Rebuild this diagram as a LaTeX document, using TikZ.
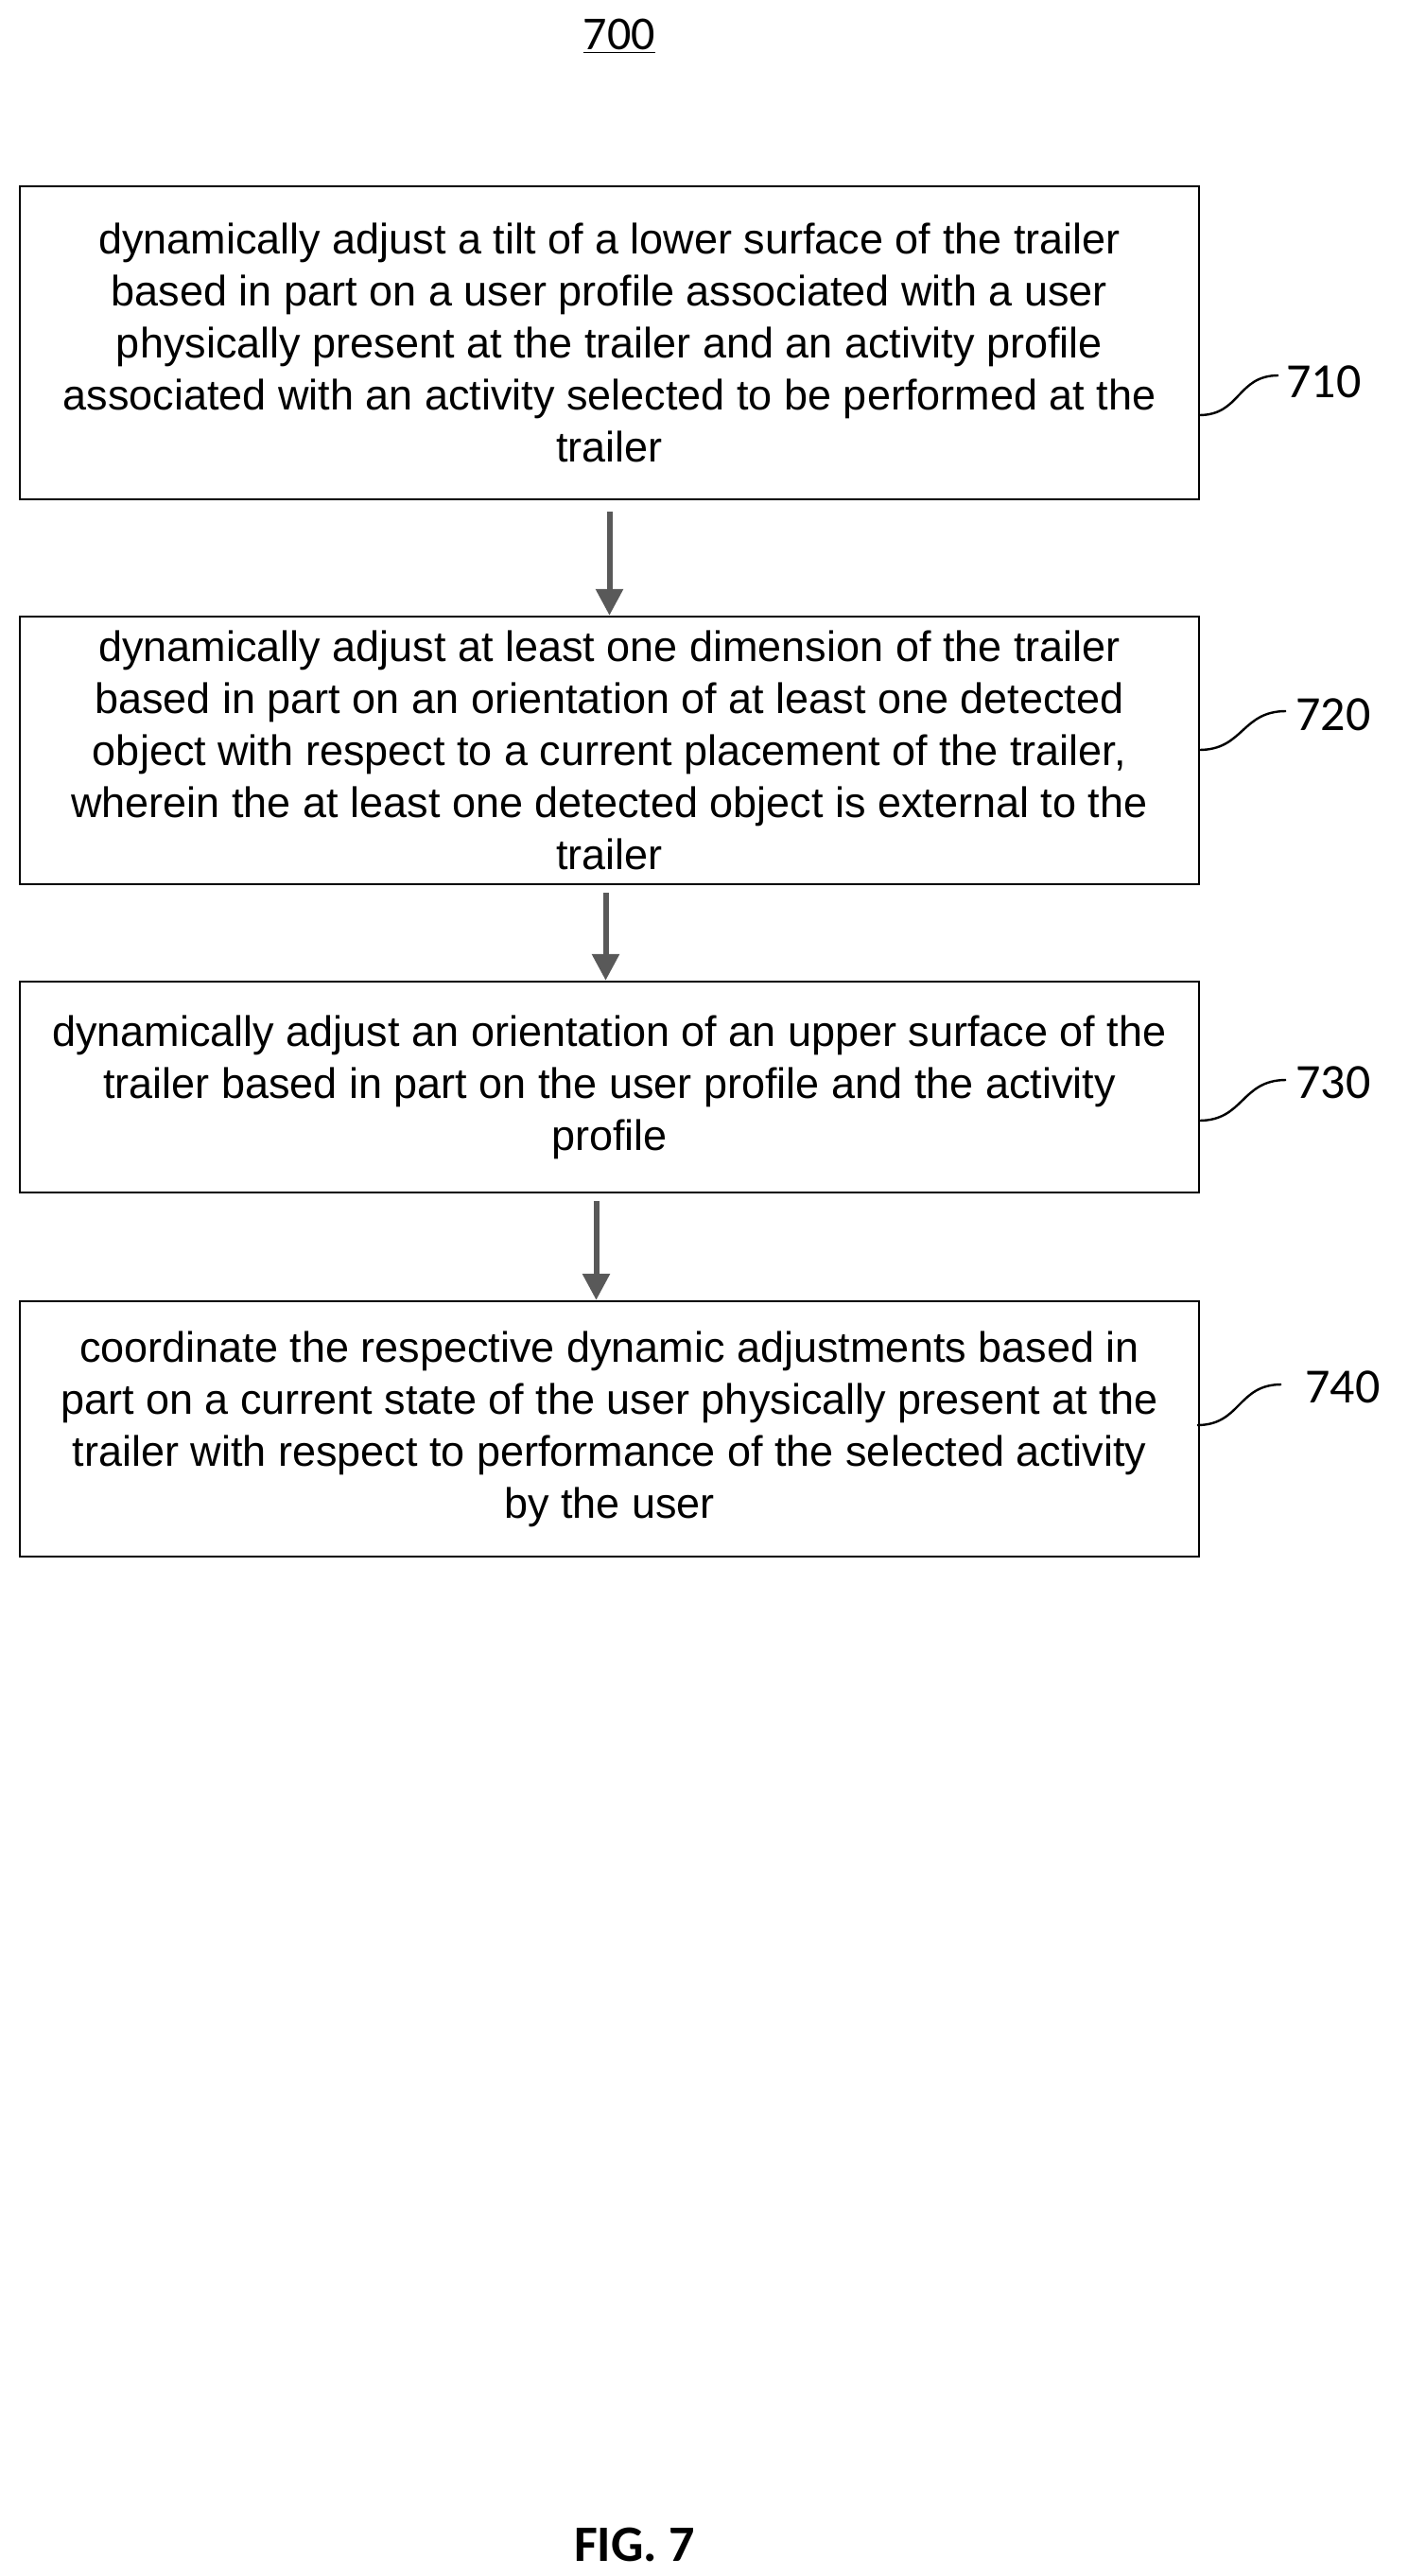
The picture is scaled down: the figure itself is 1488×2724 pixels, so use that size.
\documentclass[tikz,border=0pt]{standalone}
\usepackage{fontspec}
\setmainfont{Liberation Sans}
\newfontfamily\calib{Carlito}
\usetikzlibrary{arrows.meta}
\begin{document}
\begin{tikzpicture}[x=0.5pt,y=-0.5pt,
  box/.style={draw,line width=1.2pt,minimum width=623.5pt,align=center,inner sep=0pt,font=\fontsize{22.5}{27.5}\selectfont},
  arr/.style={draw=black!65,line width=3pt,-{Triangle[length=14pt,width=14pt]}},
  lbl/.style={font=\calib\fontsize{26}{30}\selectfont,anchor=west,inner sep=0pt},
  sq/.style={line width=1.2pt}]
\useasboundingbox (0,0) rectangle (1488,2724);
\node[font=\calib\fontsize{25}{30}\selectfont] (t) at (655,38) {\underline{700}};
\node[box,minimum height=165.5pt] (b1) at (644.5,362.5) {dynamically adjust a tilt of a lower surface of the trailer\\based in part on a user profile associated with a user\\physically present at the trailer and an activity profile\\associated with an activity selected to be performed at the\\trailer};
\node[box,minimum height=141.5pt] (b2) at (644.5,793.5) {dynamically adjust at least one dimension of the trailer\\based in part on an orientation of at least one detected\\object with respect to a current placement of the trailer,\\wherein the at least one detected object is external to the\\trailer};
\node[box,minimum height=111.5pt] (b3) at (644.5,1149.5) {dynamically adjust an orientation of an upper surface of the\\trailer based in part on the user profile and the activity\\profile};
\node[box,minimum height=135pt] (b4) at (644.5,1511) {coordinate the respective dynamic adjustments based in\\part on a current state of the user physically present at the\\trailer with respect to performance of the selected activity\\by the user};
\draw[arr,shorten <=6pt] (b1.south) -- (b2.north);
\draw[arr,shorten <=4pt] ([xshift=-2pt]b2.south) -- ([xshift=-2pt]b3.north);
\draw[arr,shorten <=4pt] ([xshift=-7pt]b3.south) -- ([xshift=-7pt]b4.north);
\node[lbl] (l1) at (1360,404) {710};
\node[lbl] (l2) at (1370,756) {720};
\node[lbl] (l3) at (1370,1145) {730};
\node[lbl] (l4) at (1380,1467) {740};
\coordinate (s1) at (1268,439); \coordinate (e1) at (1352,397);
\coordinate (s2) at (1268,793); \coordinate (e2) at (1360,752);
\coordinate (s3) at (1268,1185); \coordinate (e3) at (1360,1142);
\coordinate (s4) at (1266,1507); \coordinate (e4) at (1355,1464);
\draw[sq] (s1) to[out=0,in=180,looseness=1.2] (e1);
\draw[sq] (s2) to[out=0,in=180,looseness=1.2] (e2);
\draw[sq] (s3) to[out=0,in=180,looseness=1.2] (e3);
\draw[sq] (s4) to[out=0,in=180,looseness=1.2] (e4);
\node[font=\calib\bfseries\fontsize{27}{32}\selectfont] (fig) at (671,2691) {FIG. 7};
\end{tikzpicture}
\end{document}
